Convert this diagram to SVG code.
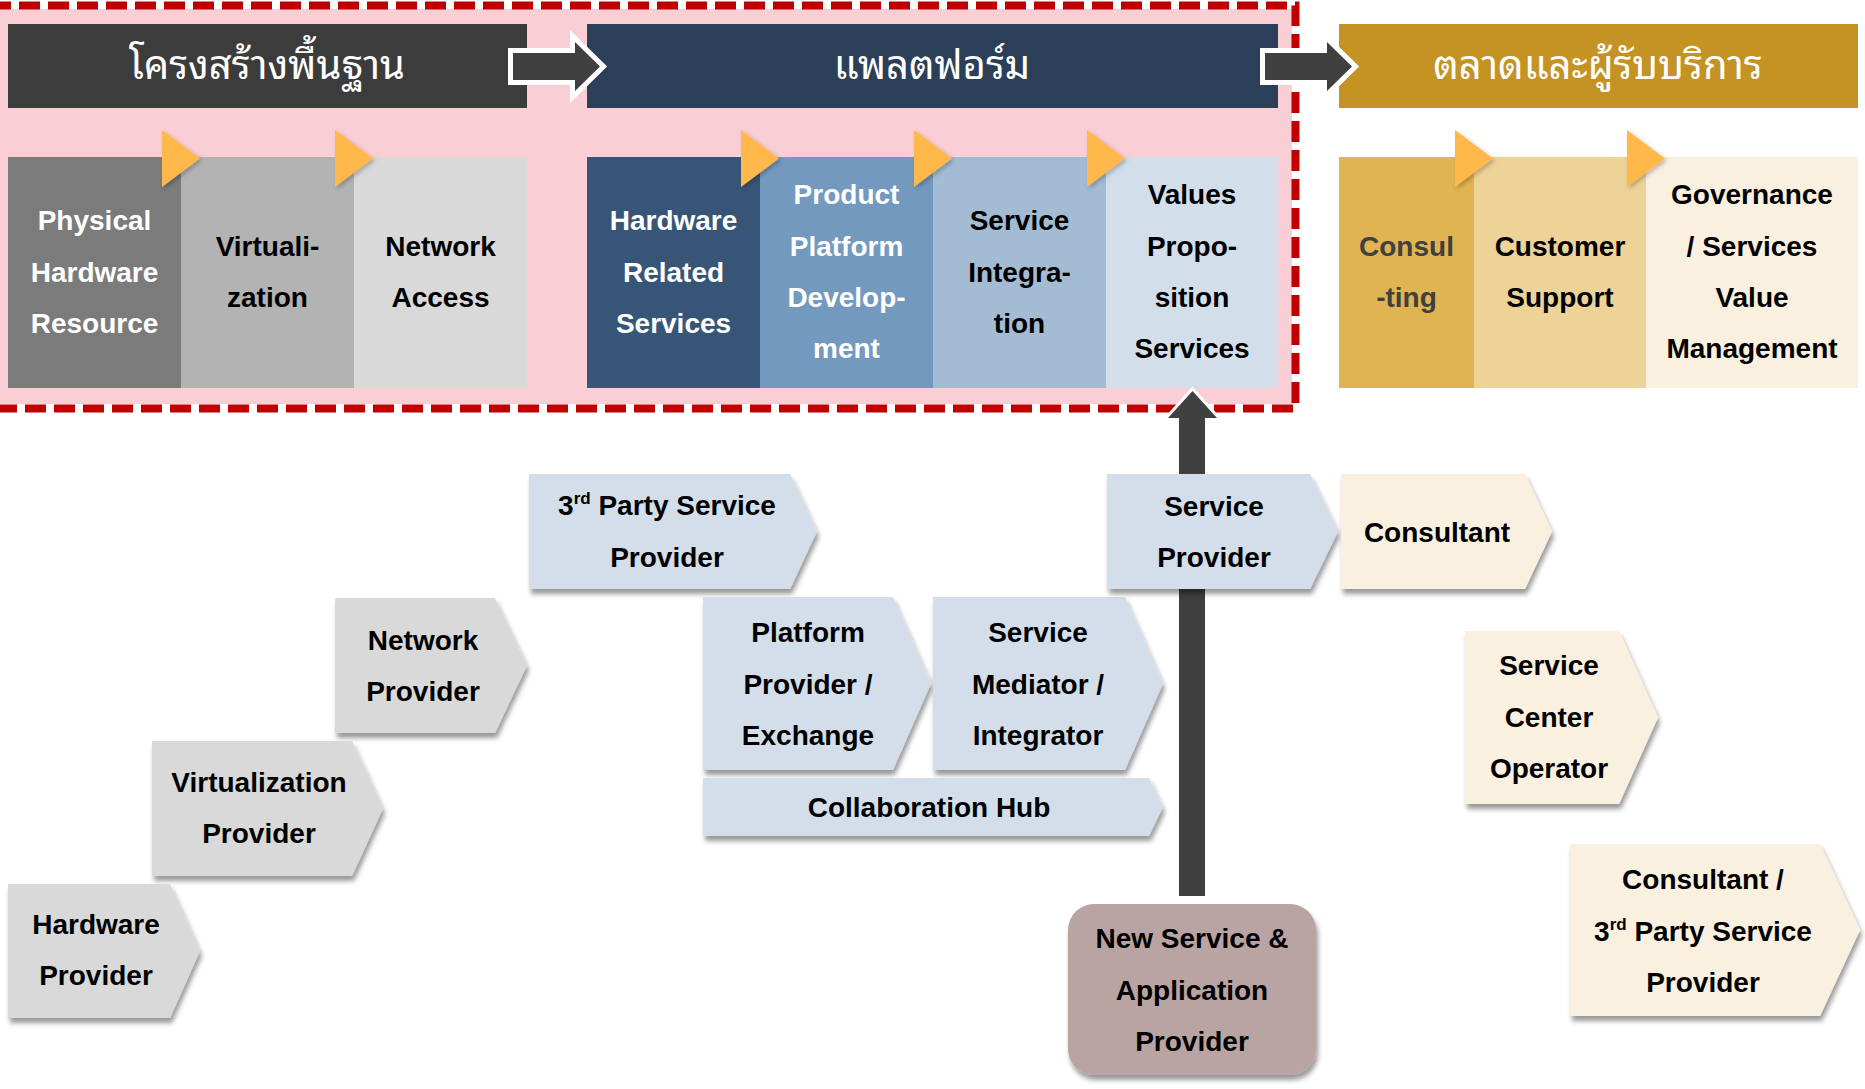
<svg xmlns="http://www.w3.org/2000/svg" width="1865" height="1089" viewBox="0 0 1865 1089">
<style>
.t{font-family:'Liberation Sans',Arial,sans-serif;font-weight:bold;font-size:28px;text-anchor:middle;fill:#000}
.w{fill:#fff}
.dk{fill:#404040}
.th{font-family:'Noto Sans Thai Looped','Noto Serif Thai','Noto Sans Thai','Loma','Garuda','DejaVu Sans',sans-serif;font-size:40px;fill:#fff;text-anchor:middle}
.tri{fill:#FFB848;filter:url(#tsh)}
.gray{fill:#D9D9D9;filter:url(#sh)}
.blue{fill:#D3DEEA;filter:url(#sh)}
.cream{fill:#FAF0DF;filter:url(#sh)}
.harrow{fill:#404040;stroke:#fff;stroke-width:10;paint-order:stroke fill;stroke-linejoin:miter}
.sup{font-size:17px}
</style>
<defs>
<filter id="sh" x="-10%" y="-10%" width="125%" height="135%">
<feDropShadow dx="2" dy="5" stdDeviation="2.5" flood-color="#000" flood-opacity="0.4"/>
</filter>
<filter id="tsh" x="-30%" y="-30%" width="170%" height="170%">
<feDropShadow dx="2" dy="2" stdDeviation="2" flood-color="#000" flood-opacity="0.25"/>
</filter>
</defs>

<g id="platform-zone">
<rect x="0" y="9" width="1292" height="395" fill="#F9CED4"/>
<rect x="-10" y="5.5" width="1305.5" height="403" fill="none" stroke="#C00000" stroke-width="8" stroke-dasharray="21 8"/>
</g>

<g id="h-infra"><rect x="8" y="24" width="519" height="84" fill="#3C3C3C"/><text class="th" x="267" y="79">โครงสร้างพื้นฐาน</text></g>
<g id="h-platform"><rect x="587" y="24" width="691" height="84" fill="#2C3F58"/><text class="th" x="932" y="79">แพลตฟอร์ม</text></g>
<g id="h-market"><rect x="1339" y="24" width="519" height="84" fill="#C49324"/><text class="th" x="1598" y="79">ตลาดและผู้รับบริการ</text></g>

<g id="n-physical"><rect x="8" y="157" width="173" height="231" fill="#7B7B7B"/><text class="t w"><tspan x="94.5" y="230">Physical</tspan><tspan x="94.5" y="282">Hardware</tspan><tspan x="94.5" y="333">Resource</tspan></text></g>
<g id="n-virtualization"><rect x="181" y="157" width="173" height="231" fill="#B3B3B3"/><text class="t"><tspan x="267.5" y="256">Virtuali-</tspan><tspan x="267.5" y="307">zation</tspan></text></g>
<g id="n-network-access"><rect x="354" y="157" width="173" height="231" fill="#D9D9D9"/><text class="t"><tspan x="440.5" y="256">Network</tspan><tspan x="440.5" y="307">Access</tspan></text></g>
<g id="n-hw-related"><rect x="587" y="157" width="173" height="231" fill="#375677"/><text class="t w"><tspan x="673.5" y="230">Hardware</tspan><tspan x="673.5" y="282">Related</tspan><tspan x="673.5" y="333">Services</tspan></text></g>
<g id="n-product-platform"><rect x="760" y="157" width="173" height="231" fill="#7399BF"/><text class="t w"><tspan x="846.5" y="204">Product</tspan><tspan x="846.5" y="256">Platform</tspan><tspan x="846.5" y="307">Develop-</tspan><tspan x="846.5" y="358">ment</tspan></text></g>
<g id="n-service-integration"><rect x="933" y="157" width="173" height="231" fill="#A3BCD4"/><text class="t"><tspan x="1019.5" y="230">Service</tspan><tspan x="1019.5" y="282">Integra-</tspan><tspan x="1019.5" y="333">tion</tspan></text></g>
<g id="n-values"><rect x="1106" y="157" width="172" height="231" fill="#D2DEEA"/><text class="t"><tspan x="1192" y="204">Values</tspan><tspan x="1192" y="256">Propo-</tspan><tspan x="1192" y="307">sition</tspan><tspan x="1192" y="358">Services</tspan></text></g>
<g id="n-consulting"><rect x="1339" y="157" width="135" height="231" fill="#E0B450"/><text class="t dk"><tspan x="1406.5" y="256">Consul</tspan><tspan x="1406.5" y="307">-ting</tspan></text></g>
<g id="n-customer-support"><rect x="1474" y="157" width="172" height="231" fill="#EDD398"/><text class="t"><tspan x="1560" y="256">Customer</tspan><tspan x="1560" y="307">Support</tspan></text></g>
<g id="n-governance"><rect x="1646" y="157" width="212" height="231" fill="#FAF0DF"/><text class="t"><tspan x="1752" y="204">Governance</tspan><tspan x="1752" y="256">/ Services</tspan><tspan x="1752" y="307">Value</tspan><tspan x="1752" y="358">Management</tspan></text></g>

<g id="step-triangles">
<polygon class="tri" points="162,130 200,158.5 162,187"/>
<polygon class="tri" points="335,130 373,158.5 335,187"/>
<polygon class="tri" points="741,130 779,158.5 741,187"/>
<polygon class="tri" points="914,130 952,158.5 914,187"/>
<polygon class="tri" points="1087,130 1125,158.5 1087,187"/>
<polygon class="tri" points="1455,130 1493,158.5 1455,187"/>
<polygon class="tri" points="1627,130 1665,158.5 1627,187"/>
</g>

<g id="connectors">
<path class="harrow" d="M513,53 H575 V42 L600,66.5 L575,91 V80 H513 Z"/>
<path class="harrow" d="M1265,53 H1327 V42 L1352,66.5 L1327,91 V80 H1265 Z"/>
<path d="M1179,896 V418 H1168 L1192.5,391 L1217,418 H1205 V896 Z" fill="#404040" stroke="#fff" stroke-width="6" paint-order="stroke fill"/>
</g>

<g id="n-network-provider"><path class="gray" d="M335,598 H495 L527,665.5 L495,733 H335 Z"/><text class="t"><tspan x="423" y="650">Network</tspan><tspan x="423" y="701">Provider</tspan></text></g>
<g id="n-virtualization-provider"><path class="gray" d="M152,741 H352 L383,808.5 L352,876 H152 Z"/><text class="t"><tspan x="259" y="792">Virtualization</tspan><tspan x="259" y="843">Provider</tspan></text></g>
<g id="n-hardware-provider"><path class="gray" d="M8,884 H170 L200,951 L170,1018 H8 Z"/><text class="t"><tspan x="96" y="934">Hardware</tspan><tspan x="96" y="985">Provider</tspan></text></g>

<g id="n-3rd-party"><path class="blue" d="M529,474 H790 L817,531.5 L790,589 H529 Z"/><text class="t"><tspan x="667" y="515">3<tspan class="sup" dy="-11">rd</tspan><tspan dy="11"> Party Service</tspan></tspan><tspan x="667" y="567">Provider</tspan></text></g>
<g id="n-platform-provider"><path class="blue" d="M703,597 H893 L931,683.5 L893,770 H703 Z"/><text class="t"><tspan x="808" y="642">Platform</tspan><tspan x="808" y="694">Provider /</tspan><tspan x="808" y="745">Exchange</tspan></text></g>
<g id="n-service-mediator"><path class="blue" d="M933,597 H1125 L1163,683.5 L1125,770 H933 Z"/><text class="t"><tspan x="1038" y="642">Service</tspan><tspan x="1038" y="694">Mediator /</tspan><tspan x="1038" y="745">Integrator</tspan></text></g>
<g id="n-collab-hub"><path class="blue" d="M703,778 H1149 L1163,807 L1149,836 H703 Z"/><text class="t" x="929" y="817">Collaboration Hub</text></g>
<g id="n-service-provider"><path class="blue" d="M1107,474 H1310 L1338,531.5 L1310,589 H1107 Z"/><text class="t"><tspan x="1214" y="516">Service</tspan><tspan x="1214" y="567">Provider</tspan></text></g>

<g id="n-consultant"><path class="cream" d="M1341,474 H1525 L1552,531.5 L1525,589 H1341 Z"/><text class="t" x="1437" y="542">Consultant</text></g>
<g id="n-service-center"><path class="cream" d="M1465,631 H1619 L1658,717.5 L1619,804 H1465 Z"/><text class="t"><tspan x="1549" y="675">Service</tspan><tspan x="1549" y="727">Center</tspan><tspan x="1549" y="778">Operator</tspan></text></g>
<g id="n-consultant-3rd"><path class="cream" d="M1570,844 H1820 L1860,930 L1820,1016 H1570 Z"/><text class="t"><tspan x="1703" y="889">Consultant /</tspan><tspan x="1703" y="941">3<tspan class="sup" dy="-11">rd</tspan><tspan dy="11"> Party Service</tspan></tspan><tspan x="1703" y="992">Provider</tspan></text></g>

<g id="n-new-service"><rect x="1068" y="904" width="248" height="171" rx="26" fill="#B9A3A3" filter="url(#sh)"/><text class="t"><tspan x="1192" y="948">New Service &amp;</tspan><tspan x="1192" y="1000">Application</tspan><tspan x="1192" y="1051">Provider</tspan></text></g>
</svg>
